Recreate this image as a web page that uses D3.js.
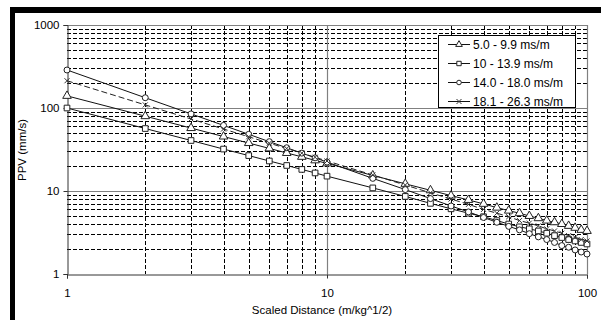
<!DOCTYPE html>
<html><head><meta charset="utf-8">
<script src="https://cdn.jsdelivr.net/npm/d3@7"></script>
<style>
html,body{margin:0;padding:0;background:#fff;}
svg{display:block;font-family:"Liberation Sans",Arial,sans-serif;}
</style></head>
<body><svg id="c" width="601" height="320"></svg>
<script>
const scaledDistance = [1,2,3,4,5,6,7,8,9,10,15,20,25,30,35,40,45,50,55,60,65,70,75,80,85,90,95,100];
const seriesNames = ["5.0 - 9.9 ms/m","10 - 13.9 ms/m","14.0 - 18.0 ms/m","18.1 - 26.3 ms/m"];
const ppvTriangle = [140,79.7,57.3,45.3,37.8,32.6,28.7,25.8,23.4,21.5,15.4,12.2,10.2,8.8,7.8,7.0,6.3,5.8,5.4,5.0,4.7,4.4,4.2,4.0,3.8,3.6,3.4,3.3];
const ppvSquare   = [100,56.6,40.6,32.0,26.7,23.0,20.3,18.2,16.5,15.1,10.9,8.6,7.1,6.1,5.4,4.9,4.4,4.0,3.7,3.5,3.3,3.1,2.9,2.75,2.6,2.5,2.4,2.3];
const ppvCircle   = [287,133,84.9,61.7,48.2,39.3,33.2,28.6,25.1,22.3,14.2,10.4,8.1,6.6,5.6,4.8,4.2,3.75,3.4,3.06,2.8,2.6,2.4,2.2,2.1,1.95,1.84,1.74];
const ppvCross    = [213,109,73.7,55.8,45.0,37.7,32.5,28.6,25.5,23.0,15.6,11.8,9.5,8.0,6.9,6.0,5.4,4.9,4.4,4.1,3.8,3.5,3.3,3.1,2.9,2.76,2.6,2.5];
const xTickLabels = [1,10,100];
const yTickLabels = [1,10,100,1000];
const xTitle = "Scaled Distance (m/kg^1/2)";
const yTitle = "PPV (mm/s)";

const svg = d3.select("#c");
// frame
svg.append("rect").attr("x",0).attr("y",0).attr("width",601).attr("height",320).attr("fill","#fff");
svg.append("rect").attr("x",10).attr("y",7).attr("width",591).attr("height",6).attr("fill","#000");
svg.append("rect").attr("x",10).attr("y",7).attr("width",5).attr("height",313).attr("fill","#000");

const x = d3.scaleLog().domain([1,100]).range([67,587]);
const y = d3.scaleLog().domain([1,1000]).range([274,25]);

const g = svg.append("g");
// minor grid
const xMinor = x.ticks().filter(v => Math.abs(Math.log10(v) - Math.round(Math.log10(v))) > 1e-6);
const yMinor = y.ticks().filter(v => Math.abs(Math.log10(v) - Math.round(Math.log10(v))) > 1e-6);
g.selectAll(".hm").data(yMinor).join("line")
  .attr("x1",x(1)).attr("x2",x(100)).attr("y1",d=>Math.round(y(d))+0.5).attr("y2",d=>Math.round(y(d))+0.5)
  .attr("stroke","#000").attr("stroke-width",1).attr("stroke-dasharray","4,2");
g.selectAll(".vm").data(xMinor).join("line")
  .attr("y1",y(1000)).attr("y2",y(1)).attr("x1",d=>Math.round(x(d))+0.5).attr("x2",d=>Math.round(x(d))+0.5)
  .attr("stroke","#000").attr("stroke-width",1).attr("stroke-dasharray","4,2");
// major grid
g.selectAll(".hM").data([10,100,1000]).join("line")
  .attr("x1",x(1)).attr("x2",x(100)).attr("y1",d=>Math.round(y(d))+0.5).attr("y2",d=>Math.round(y(d))+0.5)
  .attr("stroke","#808080").attr("stroke-width",1.2);
g.selectAll(".vM").data([10,100]).join("line")
  .attr("y1",y(1000)).attr("y2",y(1)).attr("x1",d=>Math.round(x(d))+0.5).attr("x2",d=>Math.round(x(d))+0.5)
  .attr("stroke","#808080").attr("stroke-width",1.2);

// axes
const yAxis = svg.append("g").attr("transform",`translate(${Math.round(x(1))+0.5},0)`)
  .call(d3.axisLeft(y).tickValues(yTickLabels).tickFormat(d3.format("d")).tickSize(4).tickPadding(4));
const xAxis = svg.append("g").attr("transform",`translate(0,${Math.round(y(1))+0.5})`)
  .call(d3.axisBottom(x).tickValues(xTickLabels).tickFormat(d3.format("d")).tickSize(4).tickPadding(10));
[yAxis,xAxis].forEach(a=>{
  a.select(".domain").attr("stroke","#333");
  a.selectAll(".tick line").attr("stroke","#333");
  a.selectAll("text").attr("font-size","11.5px").attr("fill","#000").attr("font-family","Liberation Sans, Arial, sans-serif");
});

svg.append("text").attr("x",322).attr("y",314).attr("text-anchor","middle")
  .attr("font-size","11.5px").text(xTitle);
svg.append("text").attr("transform","translate(26,150) rotate(-90)").attr("text-anchor","middle")
  .attr("font-size","11.5px").text(yTitle);

// series
const series = [
  {name:seriesNames[0], vals:ppvTriangle, shape:d3.symbolTriangle, size:32, dash:null},
  {name:seriesNames[1], vals:ppvSquare, shape:d3.symbolSquare, size:32, dash:null},
  {name:seriesNames[2], vals:ppvCircle, shape:d3.symbolCircle, size:28, dash:null},
  {name:seriesNames[3], vals:ppvCross, shape:"cross", size:0, dash:"6,3"}
];
const line = d3.line().x(d=>x(d[0])).y(d=>y(d[1]));
function drawMarker(sel, s, cx, cy){
  if(s.shape==="cross"){
    sel.append("path").attr("d",`M${cx-2.5},${cy-2.5}L${cx+2.5},${cy+2.5}M${cx-2.5},${cy+2.5}L${cx+2.5},${cy-2.5}`)
      .attr("stroke","#333").attr("stroke-width",1).attr("fill","none");
  } else {
    sel.append("path").attr("d",d3.symbol().type(s.shape).size(s.size)())
      .attr("transform",`translate(${cx},${cy})`).attr("fill","#fff").attr("stroke","#222").attr("stroke-width",1);
  }
}
const sg = svg.append("g");
series.forEach(s=>{
  const pts = scaledDistance.map((d,i)=>[d,s.vals[i]]);
  sg.append("path").attr("d",line(pts)).attr("fill","none").attr("stroke",s.dash?"#222":"#111")
    .attr("stroke-width",1).attr("stroke-dasharray",s.dash);
});
series.forEach(s=>{
  const mg = sg.append("g");
  scaledDistance.forEach((d,i)=>drawMarker(mg, s, x(d), y(s.vals[i])));
});

// legend
const lg = svg.append("g");
lg.append("rect").attr("x",438.5).attr("y",35.5).attr("width",137).attr("height",72)
  .attr("fill","#fff").attr("stroke","#000").attr("stroke-width",1);
series.forEach((s,i)=>{
  const cy = 44 + i*19;
  lg.append("line").attr("x1",448).attr("x2",470).attr("y1",cy+0.5).attr("y2",cy+0.5)
    .attr("stroke","#111").attr("stroke-width",1);
  drawMarker(lg, {...s, size:s.size*0.6}, 459, cy+0.5);
  lg.append("text").attr("x",473).attr("y",cy+4.5).attr("font-size","12px").text(s.name);
});
</script></body></html>
